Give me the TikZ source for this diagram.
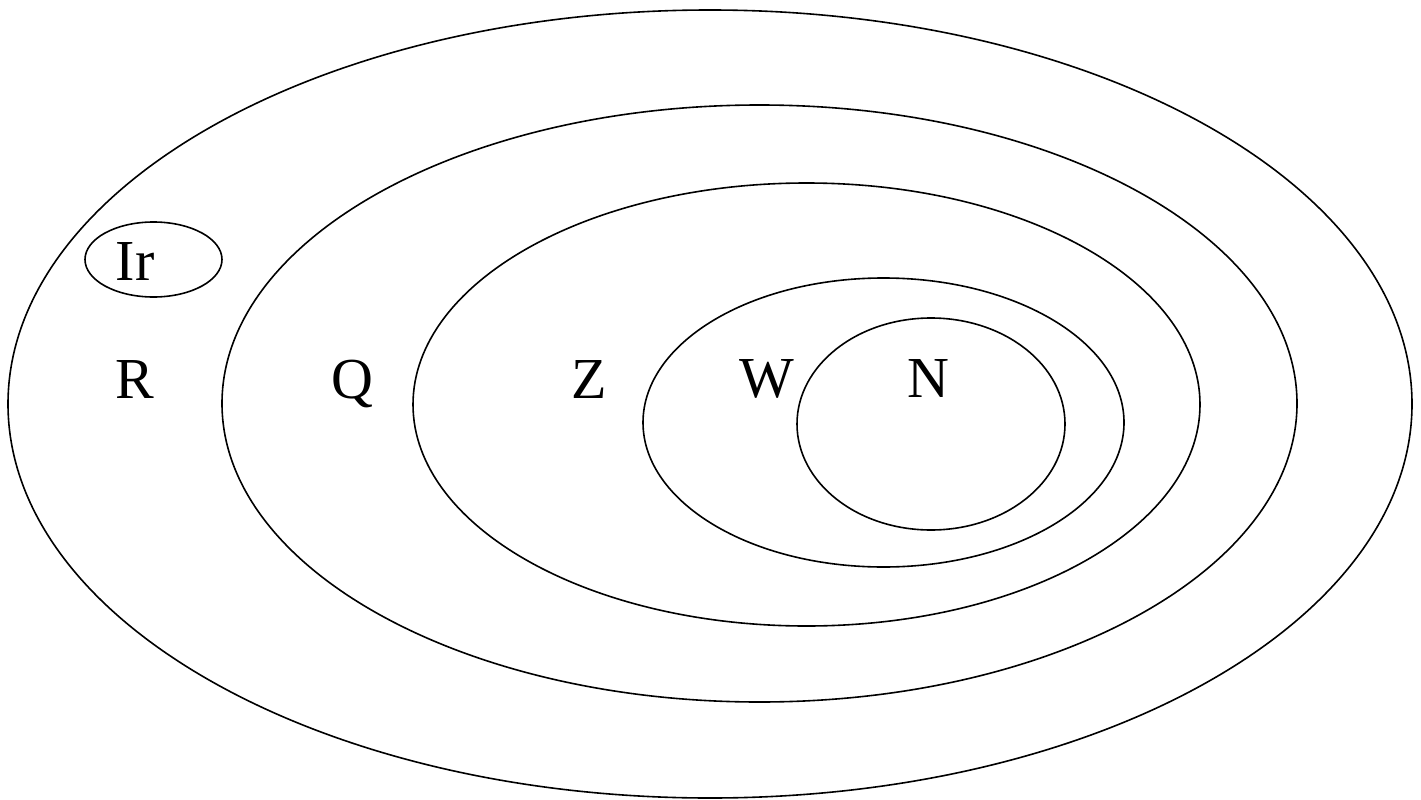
\documentclass[tikz,border=0pt]{standalone}
\usepackage{fontspec}
\setmainfont{Liberation Serif}
\newfontfamily\timesfont{Liberation Serif}
\begin{document}
\begin{tikzpicture}[x=1pt,y=-1pt,
  setline/.style={line width=1.6pt},
  lab/.style={anchor=base,inner sep=0pt,font=\timesfont\fontsize{58}{60}\selectfont}]
\useasboundingbox (0,0) rectangle (1421,800);
\draw[setline] (710,404) ellipse [x radius=702, y radius=394];
\draw[setline] (759.5,403.5) ellipse [x radius=537.5, y radius=298.5];
\draw[setline] (806.5,404.5) ellipse [x radius=393.5, y radius=221.5];
\draw[setline] (883.5,422.5) ellipse [x radius=240.5, y radius=144.5];
\draw[setline] (931,424) ellipse [x radius=134, y radius=106];
\draw[setline] (153.5,259.5) ellipse [x radius=68.5, y radius=37.5];
\node[lab] (ir) at (135,280) {Ir};
\node[lab] (r) at (135,398) {R};
\node[lab] (q) at (352,398) {Q};
\node[lab] (z) at (589,398) {Z};
\node[lab] (w) at (767,397) {W};
\node[lab] (n) at (928,397) {N};
\end{tikzpicture}
\end{document}
